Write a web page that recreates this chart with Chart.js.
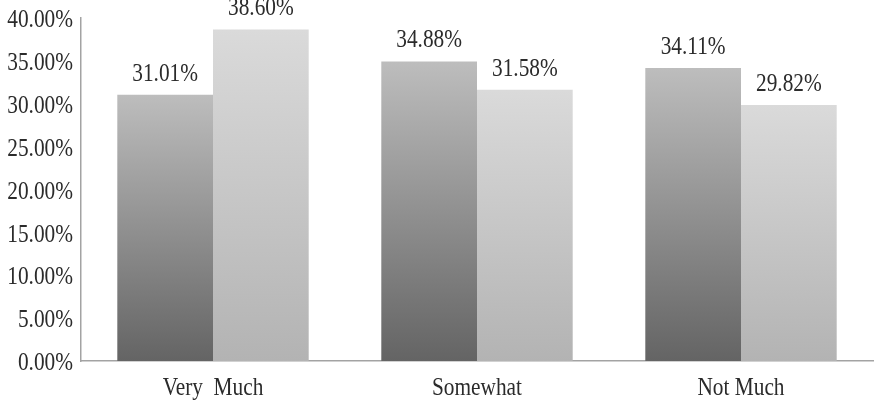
<!DOCTYPE html>
<html>
<head>
<meta charset="utf-8">
<script src="https://cdn.jsdelivr.net/npm/chart.js@4/dist/chart.umd.min.js"></script>
<style>
html,body{margin:0;padding:0;background:#fff;}
#wrap{width:883px;height:413px;position:relative;}
</style>
</head>
<body>
<div id="wrap"><canvas id="c" width="883" height="413"></canvas></div>
<script>
const categories = ["Very  Much", "Somewhat", "Not Much"];
const seriesA = [31.01, 34.88, 34.11];
const seriesB = [38.60, 31.58, 29.82];
const yTicks = [0, 5, 10, 15, 20, 25, 30, 35, 40];

const FONT = "'Liberation Serif', 'Times New Roman', serif";
const FSIZE = 26;
const SQUEEZE = 0.82;
const TEXT_COLOR = "#2b2b2b";

function gradFor(top, bottom) {
  return function (ctx) {
    const chart = ctx.chart;
    const y = chart.scales && chart.scales.y;
    if (!y || !chart.chartArea || ctx.raw === undefined) return top;
    const yTop = y.getPixelForValue(ctx.raw);
    const yBot = y.getPixelForValue(0);
    const g = chart.ctx.createLinearGradient(0, yTop, 0, yBot);
    g.addColorStop(0, top);
    g.addColorStop(1, bottom);
    return g;
  };
}

function squeezedText(ctx, text, x, y, align) {
  ctx.save();
  ctx.translate(x, y);
  ctx.scale(SQUEEZE, 1);
  ctx.textAlign = align;
  ctx.fillText(text, 0, 0);
  ctx.restore();
}

const textPlugin = {
  id: 'squeezedText',
  afterDraw(chart) {
    const ctx = chart.ctx;
    const xs = chart.scales.x, ys = chart.scales.y;
    ctx.save();
    ctx.font = FSIZE + "px " + FONT;
    ctx.fillStyle = TEXT_COLOR;
    ctx.textBaseline = "middle";
    // y tick labels
    yTicks.forEach(v => {
      squeezedText(ctx, v.toFixed(2) + "%", ys.right - 8, ys.getPixelForValue(v) + 2.5, "right");
    });
    // x category labels
    categories.forEach((c, i) => {
      squeezedText(ctx, c, xs.getPixelForValue(i), xs.top + 27, "center");
    });
    // value labels
    chart.data.datasets.forEach((ds, di) => {
      const meta = chart.getDatasetMeta(di);
      meta.data.forEach((bar, i) => {
        squeezedText(ctx, ds.data[i].toFixed(2) + "%", bar.x, bar.y - 21, "center");
      });
    });
    ctx.restore();
  }
};

new Chart(document.getElementById('c'), {
  type: 'bar',
  data: {
    labels: categories,
    datasets: [
      { label: 'A', data: seriesA, backgroundColor: gradFor('#bdbdbd', '#646464'), borderWidth: 0 },
      { label: 'B', data: seriesB, backgroundColor: gradFor('#dadada', '#b3b3b3'), borderWidth: 0 }
    ]
  },
  options: {
    responsive: false,
    animation: false,
    events: [],
    layout: { padding: { top: 17.5, right: 10, left: 0, bottom: 0 } },
    plugins: { legend: { display: false }, tooltip: { enabled: false } },
    datasets: { bar: { categoryPercentage: 0.725, barPercentage: 1.0 } },
    scales: {
      x: {
        grid: { display: false },
        border: { display: true, color: '#a3a3a3', width: 1.5 },
        ticks: { display: false },
        afterFit(s) { s.height = 52; }
      },
      y: {
        min: 0, max: 40,
        afterBuildTicks(s) { s.ticks = yTicks.map(v => ({ value: v })); },
        grid: { display: false },
        border: { display: true, color: '#a3a3a3', width: 1.5 },
        ticks: { display: false },
        afterFit(s) { s.width = 81; }
      }
    }
  },
  plugins: [textPlugin]
});
</script>
</body>
</html>
